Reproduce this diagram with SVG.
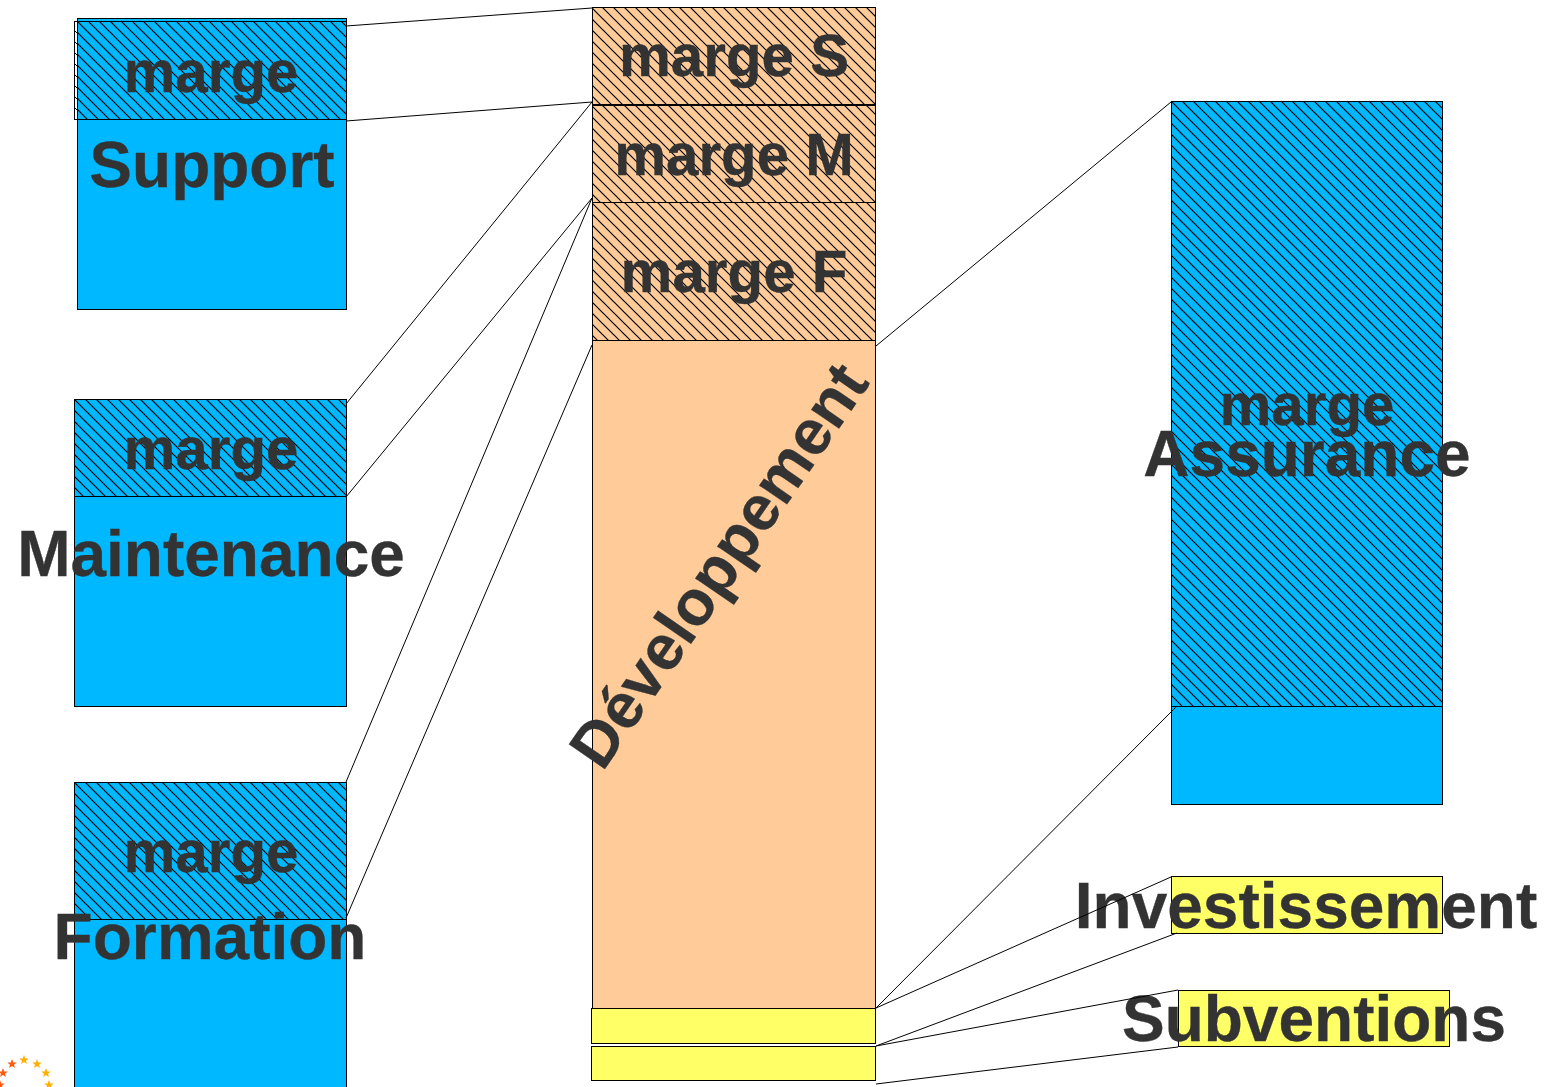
<svg xmlns="http://www.w3.org/2000/svg" width="1547" height="1087" viewBox="0 0 1547 1087">
<style>
.b{fill:#00b8ff;stroke:#000;stroke-width:1}
.o{fill:#ffcc99;stroke:#000;stroke-width:1}
.y{fill:#ffff66;stroke:#000;stroke-width:1}
.h{stroke:#000;stroke-width:1}
text{font-family:"Liberation Sans",Arial,sans-serif;font-weight:bold;fill:#333;stroke:#333;stroke-width:.3;text-anchor:middle}
.m{font-size:58.300px}
.l{font-size:64px}
#conn line{stroke:#000;stroke-width:1}
.s1{fill:#ff5a10}.s2{fill:#ffb000}
</style>
<defs>
<pattern id="tB" width="11" height="11" patternUnits="userSpaceOnUse"><rect width="11" height="11" fill="#00b8ff"/><path d="M-2,-2L13,13M-2,9L2,13M9,-2L13,2" stroke="#000" stroke-width="1.2" fill="none"/></pattern>
<pattern id="tO" width="11" height="11" patternUnits="userSpaceOnUse"><rect width="11" height="11" fill="#ffcc99"/><path d="M-2,-2L13,13M-2,9L2,13M9,-2L13,2" stroke="#000" stroke-width="1.2" fill="none"/></pattern>
<pattern id="tW" width="11" height="11" patternUnits="userSpaceOnUse"><path d="M-2,-2L13,13M-2,9L2,13M9,-2L13,2" stroke="#000" stroke-width="1" fill="none"/></pattern>
<pattern id="hSup" href="#tB" x="77" y="21"/>
<pattern id="hMai" href="#tB" x="75" y="400"/>
<pattern id="hFor" href="#tB" x="75" y="783"/>
<pattern id="hAss" href="#tB" x="1172" y="102"/>
<pattern id="hS" href="#tO" x="592" y="8"/>
<pattern id="hM" href="#tO" x="592" y="106"/>
<pattern id="hF" href="#tO" x="592" y="203"/>
<polygon id="star" points="0,-5 1.3,-1.6 4.8,-1.5 2,0.7 3,4.1 0,2.1 -3,4.1 -2,0.7 -4.8,-1.5 -1.3,-1.6"/>
</defs>
<g id="support">
<rect class="b" x="77.500" y="18.500" width="269" height="291"/>
<rect class="h" fill="url(#tW)" x="74.500" y="21.500" width="3" height="98"/>
<rect class="h" fill="url(#hSup)" x="77.500" y="21.500" width="269" height="98"/>
<text class="m" x="211" y="92">marge</text>
<text class="l" x="212" y="187">Support</text>
</g>
<g id="maintenance">
<rect class="b" x="74.500" y="399.500" width="272" height="307"/>
<rect class="h" fill="url(#hMai)" x="74.500" y="399.500" width="272" height="97"/>
<text class="m" x="211" y="469">marge</text>
<text class="l" x="211" y="576">Maintenance</text>
</g>
<g id="formation">
<rect class="b" x="74.500" y="782.500" width="272" height="320"/>
<rect class="h" fill="url(#hFor)" x="74.500" y="782.500" width="272" height="137"/>
<text class="m" x="211" y="872">marge</text>
<text class="l" x="210" y="959">Formation</text>
</g>
<g id="logo">
<use href="#star" class="s1" x="12" y="1064"/>
<use href="#star" class="s2" x="24" y="1060"/>
<use href="#star" class="s2" x="37" y="1064"/>
<use href="#star" class="s2" x="46" y="1073"/>
<use href="#star" class="s2" x="49" y="1085"/>
<use href="#star" class="s1" x="3" y="1073"/>
<use href="#star" class="s1" x="0" y="1085"/>
</g>
<g id="developpement">
<rect class="o" x="592.500" y="340.500" width="283" height="668"/>
<text transform="translate(736.500,577.700) rotate(-55.500)" x="0" y="0" style="font-size:63.500px">Développement</text>
</g>
<g id="marge-s">
<rect class="h" fill="url(#hS)" x="592.500" y="7.500" width="283" height="97"/>
<text class="m" x="734" y="76">marge S</text>
</g>
<g id="marge-m">
<rect class="h" fill="url(#hM)" x="592.500" y="105.500" width="283" height="97"/>
<text class="m" x="734" y="175">marge M</text>
</g>
<g id="marge-f">
<rect class="h" fill="url(#hF)" x="592.500" y="202.500" width="283" height="138"/>
<text class="m" x="734" y="292">marge F</text>
</g>
<g id="yellow-1"><rect class="y" x="591.500" y="1008.500" width="284" height="35"/></g>
<g id="yellow-2"><rect class="y" x="591.500" y="1046.500" width="284" height="34"/></g>
<g id="assurance">
<rect class="b" x="1171.500" y="101.500" width="271" height="703"/>
<rect class="h" fill="url(#hAss)" x="1171.500" y="101.500" width="271" height="605"/>
<text class="m" x="1307" y="425">marge</text>
<text class="l" x="1307" y="476">Assurance</text>
</g>
<g id="investissement">
<rect class="y" x="1171.500" y="876.500" width="271" height="57"/>
<text class="l" x="1306" y="928">Investissement</text>
</g>
<g id="subventions">
<rect class="y" x="1178.500" y="990.500" width="271" height="56"/>
<text class="l" x="1314" y="1041">Subventions</text>
</g>
<g id="conn">
<line x1="346" y1="26" x2="592" y2="8"/>
<line x1="346" y1="121" x2="592" y2="102"/>
<line x1="346" y1="404" x2="592" y2="102"/>
<line x1="346" y1="497" x2="592" y2="198"/>
<line x1="346" y1="782" x2="592" y2="198"/>
<line x1="346" y1="918" x2="592" y2="345"/>
<line x1="876" y1="346" x2="1171" y2="102"/>
<line x1="876" y1="1008" x2="1177" y2="706"/>
<line x1="876" y1="1008" x2="1171" y2="877"/>
<line x1="876" y1="1046" x2="1177" y2="933"/>
<line x1="876" y1="1046" x2="1178" y2="990"/>
<line x1="876" y1="1084" x2="1178" y2="1047"/>
</g>
</svg>
